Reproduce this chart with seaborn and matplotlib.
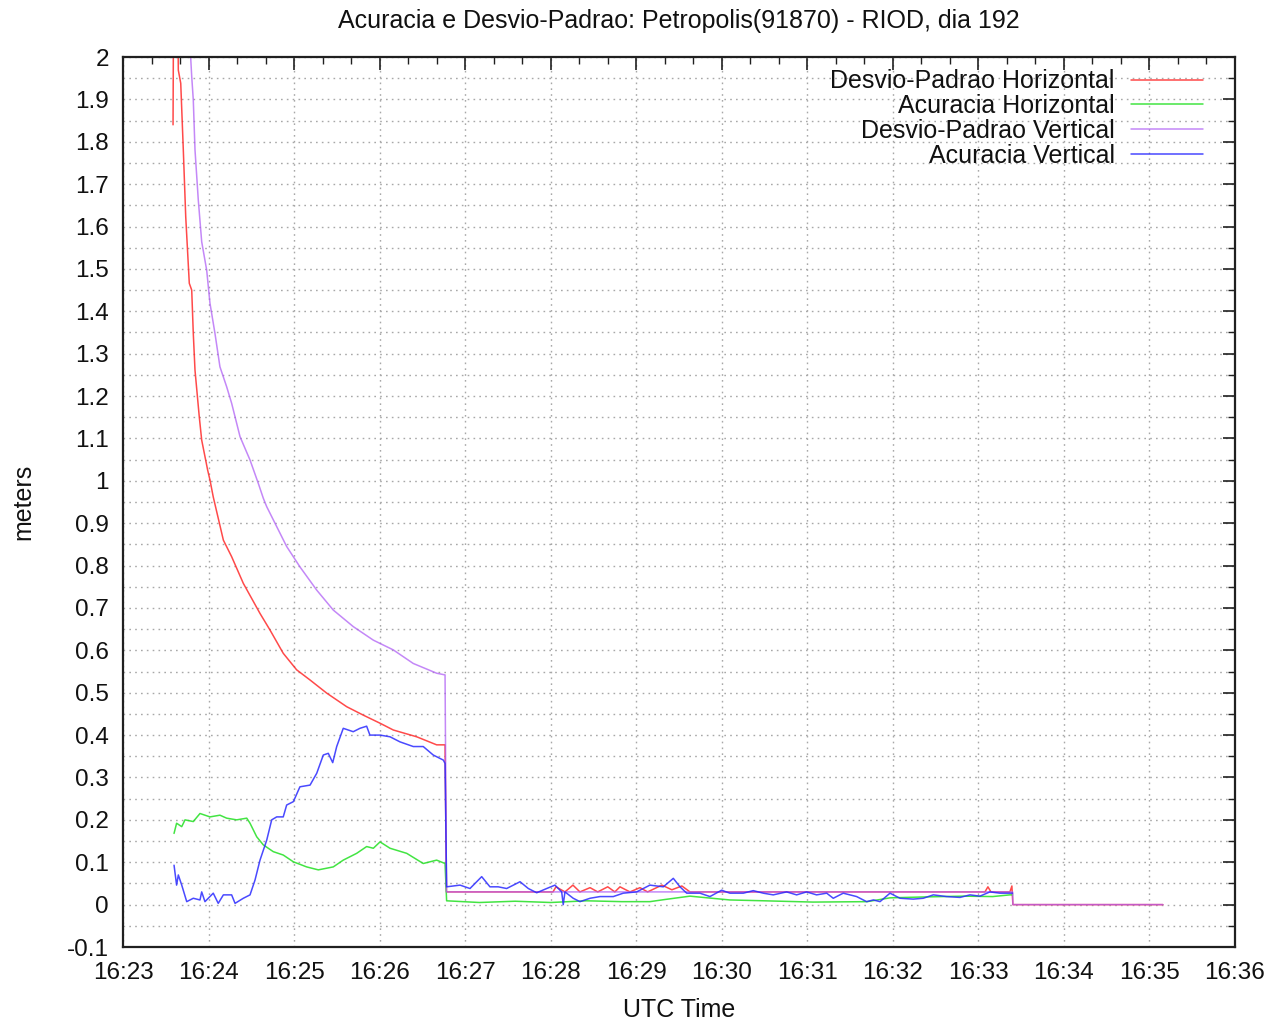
import matplotlib
matplotlib.use('Agg')
import matplotlib.pyplot as plt
import seaborn as sns
import pandas as pd
from matplotlib.ticker import MultipleLocator, FixedLocator, FuncFormatter

# ---------------- data (time in seconds after 16:23:00, values in meters) -------------
title = 'Acuracia e Desvio-Padrao: Petropolis(91870) - RIOD, dia 192'
x_tick_labels = ['16:23', '16:24', '16:25', '16:26', '16:27', '16:28', '16:29',
                 '16:30', '16:31', '16:32', '16:33', '16:34', '16:35', '16:36']
series_names = ['Desvio-Padrao Horizontal', 'Acuracia Horizontal',
                'Desvio-Padrao Vertical', 'Acuracia Vertical']

red_t = [35.1, 35.8, 37.9, 38.8, 40.5, 42.3, 44.0, 46.5, 48.2, 49.3,
         50.5, 53.5, 55.2, 59.4, 61.0, 63.3, 70.4, 76.2, 84.4, 96.1,
         103.1, 112.4, 121.8, 131.2, 142.9, 156.9, 168.6, 180.3, 189.6, 206.0,
         220.0, 225.9, 226.9, 301.6, 303.7, 310.0, 315.6, 320.5, 327.6, 333.0,
         340.0, 345.0, 348.6, 355.6, 362.6, 368.0, 378.0, 385.0, 392.0, 397.7,
         604.6, 606.7, 608.8, 622.1, 623.5, 624.2, 729.4]
red_v = [1.84, 2.4, 2.3, 1.969, 1.938, 1.781, 1.623, 1.466, 1.450, 1.348,
         1.261, 1.151, 1.096, 1.025, 1.002, 0.962, 0.860, 0.821, 0.758, 0.687,
         0.648, 0.593, 0.554, 0.530, 0.499, 0.467, 0.447, 0.428, 0.412, 0.396,
         0.377, 0.377, 0.030, 0.030, 0.042, 0.030, 0.046, 0.030, 0.040, 0.030,
         0.042, 0.030, 0.042, 0.030, 0.040, 0.030, 0.046, 0.035, 0.044, 0.030,
         0.030, 0.042, 0.030, 0.030, 0.044, 0.0, 0.0]

green_t = [35.8, 37.6, 41.2, 43.5, 49.3, 54.0, 61.0, 68.0, 72.7, 79.7,
           86.8, 89.1, 93.8, 98.4, 105.4, 112.4, 119.5, 128.8, 137.0, 147.5,
           154.5, 163.9, 170.9, 175.6, 180.3, 187.3, 199.0, 210.6, 220.0, 225.9,
           227.0, 250, 275, 300, 325, 350, 369.6, 380, 397.7, 410,
           425.7, 450, 484, 522, 538, 561, 589, 610, 622, 624.0]
green_v = [0.168, 0.192, 0.184, 0.200, 0.196, 0.215, 0.207, 0.211, 0.204, 0.200,
           0.204, 0.192, 0.160, 0.141, 0.125, 0.117, 0.101, 0.089, 0.082, 0.089,
           0.105, 0.121, 0.137, 0.133, 0.148, 0.133, 0.121, 0.097, 0.105, 0.097,
           0.009, 0.005, 0.008, 0.005, 0.009, 0.007, 0.007, 0.012, 0.020, 0.016,
           0.011, 0.009, 0.006, 0.007, 0.016, 0.018, 0.020, 0.019, 0.023, 0.023]

purple_t = [35.1, 44.2, 48.2, 49.3, 50.5, 52.8, 55.2, 58.7, 61.0, 64.5,
            68.0, 72.7, 76.2, 82.1, 89.1, 94.9, 98.4, 100.8, 107.8, 114.8,
            124.1, 135.9, 147.5, 161.5, 175.6, 189.6, 203.6, 220.0, 225.9, 226.9,
            624.0, 624.2, 729.4]
purple_v = [3.0, 2.2, 1.954, 1.899, 1.781, 1.663, 1.564, 1.497, 1.419, 1.348,
            1.269, 1.222, 1.183, 1.104, 1.049, 0.994, 0.959, 0.939, 0.892, 0.845,
            0.797, 0.742, 0.695, 0.656, 0.624, 0.601, 0.569, 0.546, 0.542, 0.030,
            0.030, 0.0, 0.0]

blue_t = [35.8, 37.6, 38.8, 41.2, 44.7, 49.3, 54.0, 55.2, 57.5, 63.3,
          66.8, 70.4, 76.2, 78.6, 84.4, 89.1, 92.6, 96.1, 100.8, 104.3,
          107.8, 112.4, 114.8, 119.5, 124.1, 131.2, 135.9, 140.5, 144.0, 147.1,
          149.9, 154.5, 161.5, 166.2, 170.9, 173.2, 180.3, 187.3, 194.3, 203.6,
          210.6, 217.6, 224.7, 225.9, 227.0, 236.4, 243.4, 251.6, 257.4, 263.2,
          269.1, 278.5, 284.3, 290.2, 297.2, 303.0, 307.7, 308.8, 310.0, 315.8,
          320.5, 327.6, 334.6, 343.9, 350.9, 360.3, 369.6, 379.0, 386.0, 390.7,
          395.4, 404.7, 411.7, 419.9, 425.7, 435.1, 442.1, 449.1, 456.1, 465.5,
          472.5, 479.5, 486.5, 493.6, 498.2, 505.2, 514.6, 521.6, 526.3, 531.0,
          538.0, 545.0, 554.3, 561.3, 568.4, 577.7, 587.1, 594.1, 601.1, 608.1,
          615.1, 622.1, 624.0]
blue_v = [0.093, 0.046, 0.070, 0.046, 0.007, 0.015, 0.011, 0.030, 0.007, 0.027,
          0.003, 0.023, 0.023, 0.003, 0.015, 0.023, 0.058, 0.105, 0.152, 0.200,
          0.207, 0.207, 0.235, 0.243, 0.278, 0.282, 0.310, 0.353, 0.357, 0.335,
          0.373, 0.416, 0.408, 0.416, 0.421, 0.400, 0.400, 0.396, 0.384, 0.373,
          0.373, 0.353, 0.341, 0.333, 0.042, 0.046, 0.038, 0.066, 0.042, 0.042,
          0.038, 0.054, 0.038, 0.028, 0.038, 0.046, 0.030, 0.0, 0.030, 0.015,
          0.007, 0.015, 0.019, 0.019, 0.027, 0.030, 0.046, 0.042, 0.062, 0.042,
          0.027, 0.027, 0.019, 0.034, 0.027, 0.027, 0.033, 0.027, 0.023, 0.030,
          0.023, 0.030, 0.023, 0.027, 0.015, 0.027, 0.019, 0.007, 0.011, 0.007,
          0.027, 0.015, 0.013, 0.015, 0.023, 0.019, 0.017, 0.023, 0.020, 0.030,
          0.027, 0.027, 0.027]

# ---------------- styling -------------
sns.set_theme(style='white')
plt.rcParams['font.family'] = ['Liberation Sans', 'DejaVu Sans']
FS = 18
TFS = 17.5

fig = plt.figure(figsize=(12.72, 10.21), dpi=100)
ax = fig.add_axes([123 / 1272, 1 - 947 / 1021, (1235 - 123) / 1272, (947 - 57) / 1021])

colors = ['#ff2a2a', '#22e022', '#b060f5', '#2a2aff']
alphas = [0.85, 0.85, 0.75, 0.85]
all_t = [red_t, green_t, purple_t, blue_t]
all_v = [red_v, green_v, purple_v, blue_v]

for name, t, v, c, a in zip(series_names, all_t, all_v, colors, alphas):
    df = pd.DataFrame({'minutes': [s / 60.0 for s in t], 'value': v})
    sns.lineplot(data=df, x='minutes', y='value', ax=ax, color=c, alpha=a,
                 linewidth=1.1, sort=False, estimator=None, label=name)

ax.set_xlim(0, 13)
ax.set_ylim(-0.1, 2.0)

ax.xaxis.set_major_locator(FixedLocator(list(range(len(x_tick_labels)))))
ax.set_xticklabels(x_tick_labels)
ax.xaxis.set_minor_locator(MultipleLocator(1 / 3))
ax.yaxis.set_major_locator(MultipleLocator(0.1))
ax.yaxis.set_minor_locator(MultipleLocator(0.05))
ax.yaxis.set_major_formatter(FuncFormatter(lambda v, p: f"{round(v, 2) + 0.0:g}"))

ax.tick_params(which='both', direction='in', top=True, right=True,
               colors='#202020', labelcolor='#111111', labelsize=TFS)
ax.tick_params(which='major', length=9, width=1.2)
ax.tick_params(which='minor', length=5, width=1.0)
ax.tick_params(axis='x', which='major', pad=11)
ax.tick_params(axis='y', which='major', pad=10)

ax.grid(False)
ax.grid(True, axis='y', which='both', color='#a8a8a8', linestyle=(0, (1.2, 3)), linewidth=1.0)
ax.grid(True, axis='x', which='major', color='#a8a8a8', linestyle=(0, (1.2, 3)), linewidth=1.0)
ax.set_axisbelow(True)

for sp in ax.spines.values():
    sp.set_color('#202020')
    sp.set_linewidth(1.6)

ax.set_title(title, fontsize=FS, pad=21, color='#111111')
ax.set_xlabel('UTC Time', fontsize=FS, labelpad=10, color='#111111')
ax.set_ylabel('meters', fontsize=FS, labelpad=23, color='#111111')

leg = ax.legend(loc='upper right', bbox_to_anchor=(0.985, 1.003), frameon=False,
                markerfirst=False, handlelength=2.9, handletextpad=0.65,
                labelspacing=0.03, fontsize=FS, borderaxespad=0.2)
for txt in leg.get_texts():
    txt.set_color('#111111')

fig.savefig('out.png', dpi=100)
